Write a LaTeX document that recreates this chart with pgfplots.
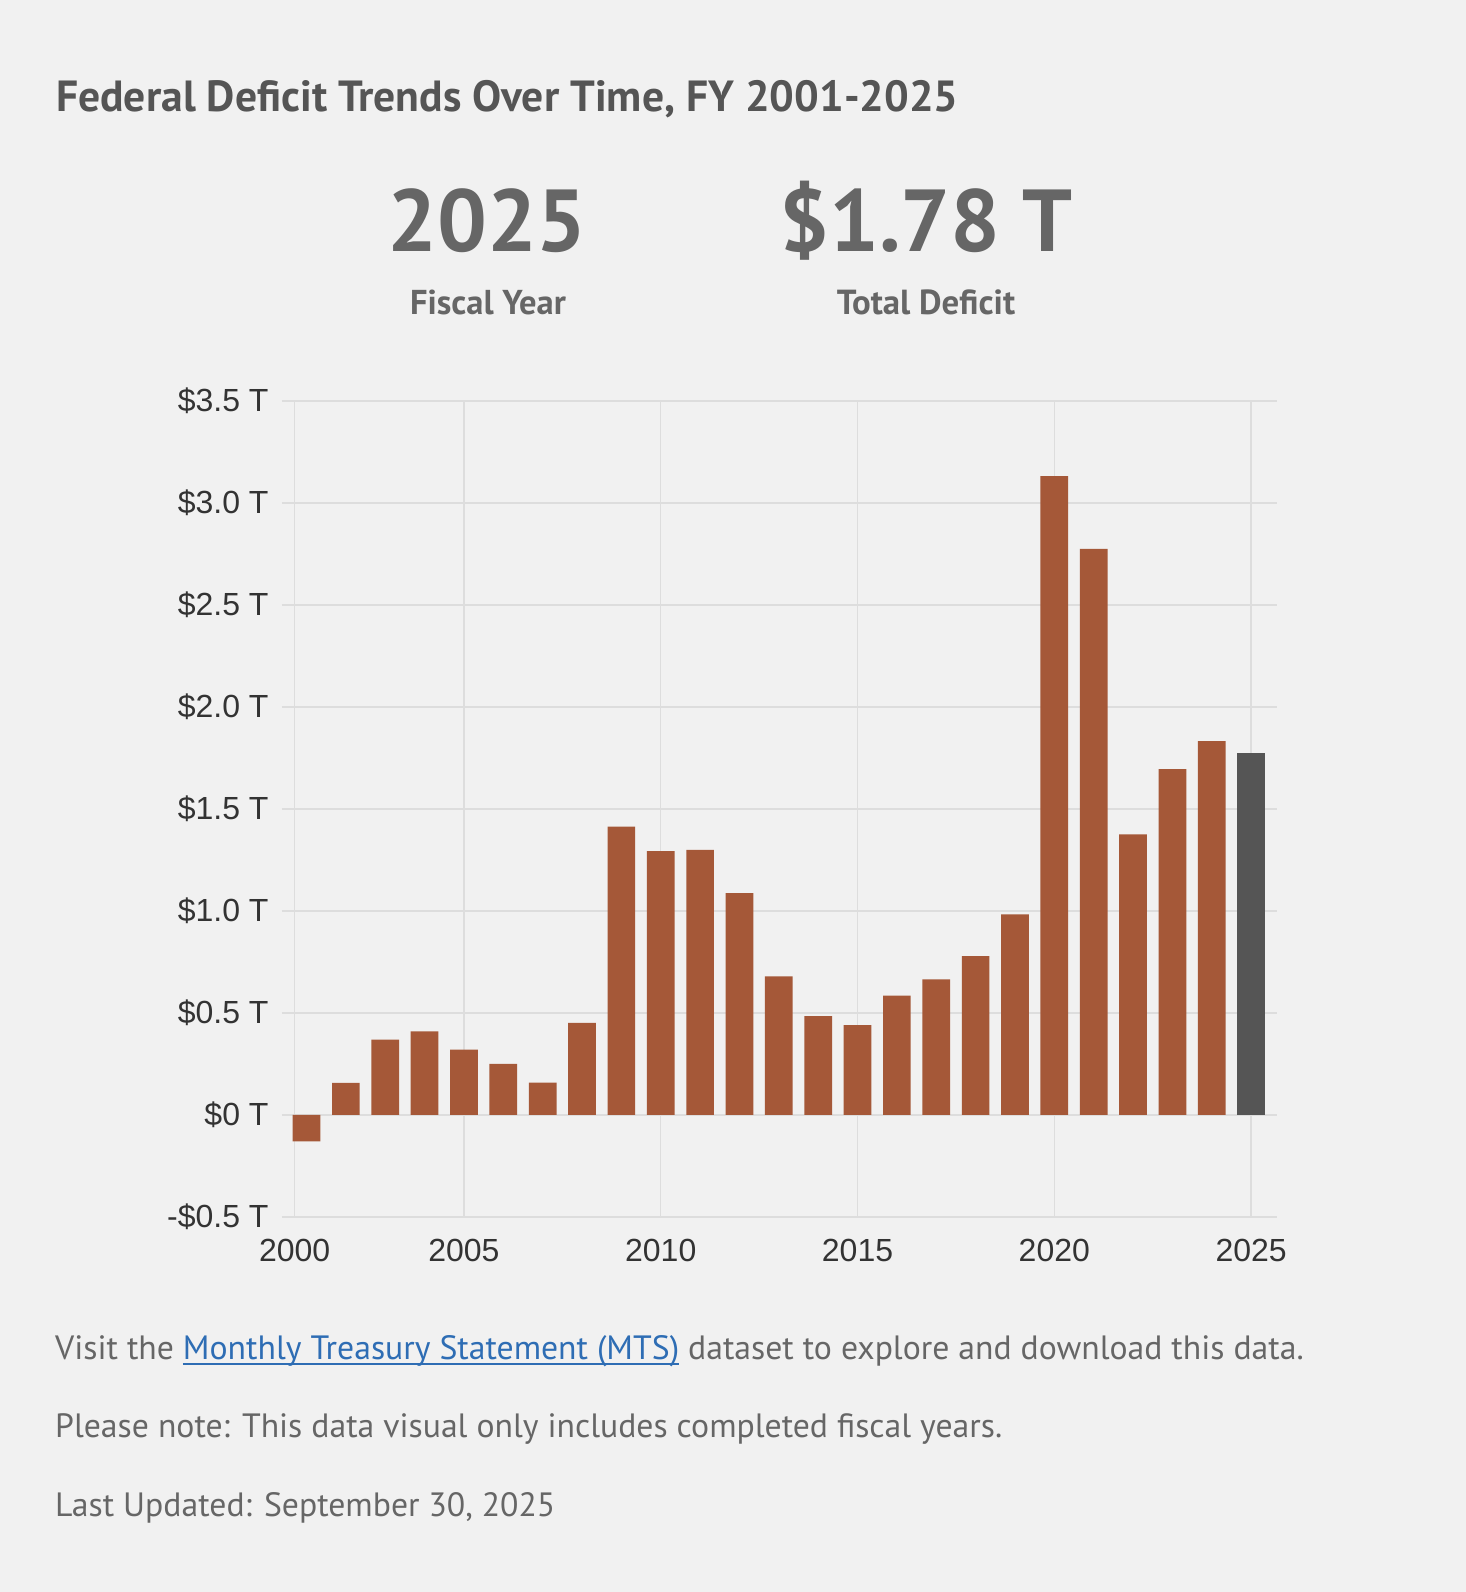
\documentclass[border=0pt]{standalone}
\usepackage{fontspec}
\setmainfont{PT Sans}
\newfontfamily\arial{Liberation Sans}
\usepackage{pgfplots}
\pgfplotsset{compat=1.18}
\definecolor{bg}{HTML}{F1F1F1}
\definecolor{gridc}{HTML}{DDDDDD}
\definecolor{barc}{HTML}{A55838}
\definecolor{curc}{HTML}{555555}
\definecolor{titlec}{HTML}{555555}
\definecolor{subc}{HTML}{666666}
\definecolor{linkc}{HTML}{2E6DB4}
\definecolor{tickc}{HTML}{333333}
\newcommand\ul[1]{\setbox0\hbox{#1}\rlap{\color{linkc}\rule[-5pt]{\wd0}{1.8pt}}\box0\relax}
\begin{document}
\begin{tikzpicture}[x=1pt,y=1pt]
\fill[bg] (0,0) rectangle (1466,1592);
\node[anchor=base west, inner sep=0, text=titlec, font=\fontsize{43.6}{50}\selectfont\bfseries] at (56,1480.3) {Federal Deficit Trends Over Time, FY 2001-2025};
\node[anchor=base, inner sep=0, text=subc, font=\fontsize{88}{100}\selectfont\bfseries] at (487,1340) {2025};
\node[anchor=base, inner sep=0, text=subc, font=\fontsize{88}{100}\selectfont\bfseries] at (926,1340) {\$1.78 T};
\node[anchor=base, inner sep=0, text=subc, font=\fontsize{34.5}{40}\selectfont\bfseries] at (488,1277) {Fiscal Year};
\node[anchor=base, inner sep=0, text=subc, font=\fontsize{34.8}{40}\selectfont\bfseries] at (926,1277) {Total Deficit};
\node[anchor=base west, inner sep=0, text=subc, font=\fontsize{33.7}{40}\selectfont] at (55,232) {Visit the \ul{\textcolor{linkc}{Monthly Treasury Statement (MTS)}} dataset to explore and download this data.};
\node[anchor=base west, inner sep=0, text=subc, font=\fontsize{33.7}{40}\selectfont] at (55,154) {Please note: This data visual only includes completed fiscal years.};
\node[anchor=base west, inner sep=0, text=subc, font=\fontsize{33.7}{40}\selectfont] at (55,75) {Last Updated: September 30, 2025};
\begin{axis}[
  at={(294.7pt,375pt)}, anchor=south west,
  scale only axis, width=982pt, height=816pt,
  xmin=-0.3, xmax=24.65, ymin=-0.5, ymax=3.5,
  xtick={-0.3,4,9,14,19,24},
  xticklabels={2000,2005,2010,2015,2020,2025},
  ytick={-0.5,0,0.5,1,1.5,2,2.5,3,3.5},
  yticklabels={-\$0.5 T,\$0 T,\$0.5 T,\$1.0 T,\$1.5 T,\$2.0 T,\$2.5 T,\$3.0 T,\$3.5 T},
  axis line style={draw=none},
  grid=major,
  major grid style={draw=gridc, line width=1.5pt},
  tick align=outside,
  ytick pos=left,
  major tick length=13pt,
  xtick style={draw=none},
  ytick style={draw=gridc, line width=1.5pt},
  ticklabel style={font=\arial\fontsize{32}{38}\selectfont, text=tickc, inner sep=0pt},
  yticklabel style={anchor=east, xshift=-13pt},
  xticklabel style={anchor=north, yshift=-9pt},
  clip=false,
]
\addplot[ybar, bar width=27.7pt, bar shift=0pt, fill=barc, draw=none] coordinates {
(0,-0.129) (1,0.158) (2,0.370) (3,0.410) (4,0.320) (5,0.250) (6,0.159) (7,0.451)
(8,1.413) (9,1.294) (10,1.300) (11,1.087) (12,0.680) (13,0.485) (14,0.440) (15,0.585)
(16,0.665) (17,0.779) (18,0.984) (19,3.132) (20,2.775) (21,1.375) (22,1.695) (23,1.833)};
\addplot[ybar, bar width=27.7pt, bar shift=0pt, fill=curc, draw=none] coordinates {(24,1.775)};
\end{axis}
\end{tikzpicture}
\end{document}
